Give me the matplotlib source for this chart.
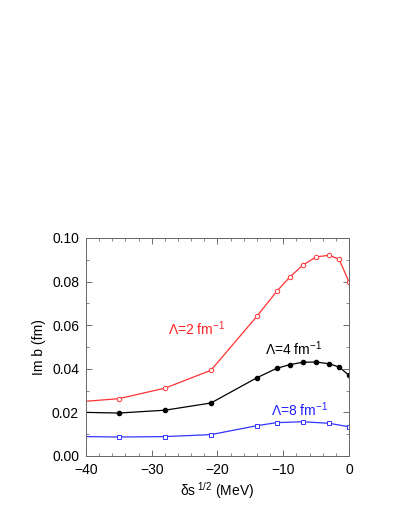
import matplotlib
matplotlib.use("Agg")
import matplotlib.pyplot as plt
from matplotlib.ticker import MultipleLocator, FormatStrFormatter

plt.rcParams['font.family'] = ['Liberation Sans', 'DejaVu Sans']
plt.rcParams['mathtext.fontset'] = 'custom'
plt.rcParams['mathtext.rm'] = 'Liberation Sans'
plt.rcParams['mathtext.it'] = 'Liberation Sans'
plt.rcParams['mathtext.default'] = 'regular'

# Lambda = 2 fm^-1 (red, open circles)
x_red = [-40, -35, -28, -21, -14, -11, -9, -7, -5, -3, -1.5, 0]
y_red = [0.0251, 0.0263, 0.0311, 0.0393, 0.0641, 0.0755, 0.0821, 0.0876, 0.0913, 0.0921, 0.0902, 0.0798]

# Lambda = 4 fm^-1 (black, filled circles)
x_blk = [-40, -35, -28, -21, -14, -11, -9, -7, -5, -3, -1.5, 0]
y_blk = [0.0200, 0.0197, 0.0210, 0.0243, 0.0359, 0.0402, 0.0419, 0.0430, 0.0431, 0.0423, 0.0408, 0.0370]

# Lambda = 8 fm^-1 (blue, open squares)
x_blu = [-40, -35, -28, -21, -14, -11, -7, -3, 0]
y_blu = [0.0089, 0.0087, 0.0089, 0.0098, 0.0139, 0.0153, 0.0157, 0.0150, 0.0134]

xticks = [-40, -30, -20, -10, 0]
yticks = [0.00, 0.02, 0.04, 0.06, 0.08, 0.10]

fig = plt.figure(figsize=(3.99, 5.16), dpi=100)
ax = fig.add_axes([0.2155, 0.1163, 0.8747 - 0.2155, 0.5388 - 0.1163])

ax.plot(x_red, y_red, color='#ff3333', lw=0.9)
ax.plot(x_red[1:], y_red[1:], ls='none', marker='o', ms=3.2, mfc='white', mec='#ff3333', mew=0.7)

ax.plot(x_blk, y_blk, color='black', lw=0.9)
ax.plot(x_blk[1:], y_blk[1:], ls='none', marker='o', ms=3.0, color='black')

ax.plot(x_blu, y_blu, color='#3333ff', lw=0.9)
ax.plot(x_blu[1:], y_blu[1:], ls='none', marker='s', ms=2.6, mfc='white', mec='#3333ff', mew=0.7)

ax.set_xlim(-40, 0)
ax.set_ylim(0, 0.10)
ax.set_xticks(xticks)
ax.set_xticklabels(['\u221240', '\u221230', '\u221220', '\u221210', '0'])
ax.set_yticks(yticks)
ax.yaxis.set_major_formatter(FormatStrFormatter('%.2f'))
ax.xaxis.set_minor_locator(MultipleLocator(2))
ax.yaxis.set_minor_locator(MultipleLocator(0.01))
ax.tick_params(which='both', direction='in', top=True, right=True, labelsize=10, color='#555555')
ax.tick_params(which='major', length=4, width=0.6, pad=5)
ax.tick_params(which='minor', length=2, width=0.5)
for s in ax.spines.values():
    s.set_color('#666666')
    s.set_linewidth(0.7)

ax.set_xlabel('\u03b4s$^{\\ 1/2}$ (MeV)', fontsize=10, labelpad=2)
ax.set_ylabel('Im b (fm)', fontsize=10, labelpad=4)

ax.text(-27.5, 0.0555, '\u039b=2 fm$^{-1}$', color='#ff2222', fontsize=10)
ax.text(-12.8, 0.0462, '\u039b=4 fm$^{-1}$', color='black', fontsize=10)
ax.text(-11.8, 0.0185, '\u039b=8 fm$^{-1}$', color='#2222ff', fontsize=10)

fig.savefig('out.png', dpi=100)
